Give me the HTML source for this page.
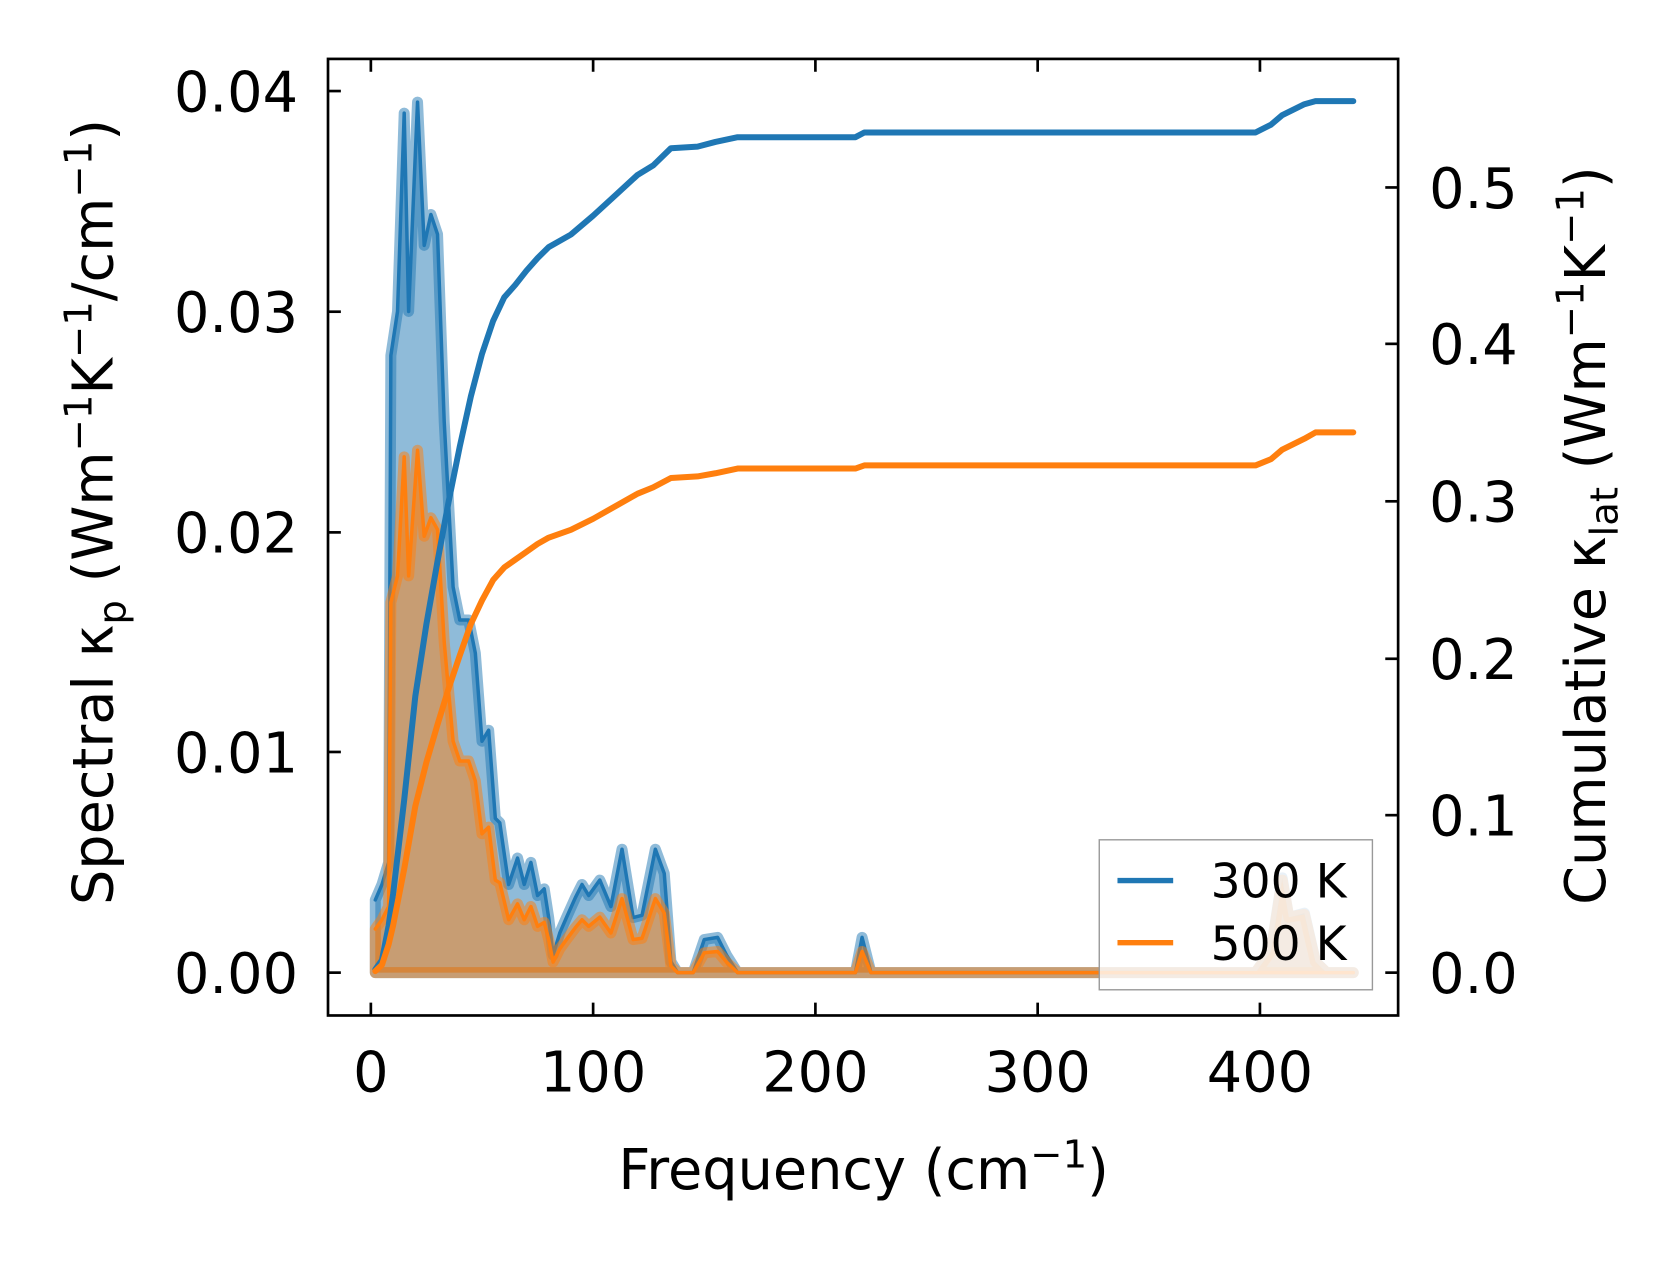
<!DOCTYPE html>
<html><head><meta charset="utf-8"><style>
html,body{margin:0;padding:0;background:#fff;}
svg{display:block;}
text{font-family:"DejaVu Sans","Liberation Sans",sans-serif;fill:#000;}
.ns{vector-effect:non-scaling-stroke;fill:none;stroke-linejoin:round;stroke-linecap:round;}
</style></head><body>
<svg width="1679" height="1264" viewBox="0 0 1567 1180" xmlns="http://www.w3.org/2000/svg">
<defs><clipPath id="c"><rect x="306" y="55" width="999" height="893"/></clipPath></defs>
<g clip-path="url(#c)">
<g transform="translate(346,908) scale(2.075,-20575)">
<polygon stroke="#1f77b4" stroke-opacity="0.5" stroke-width="11" class="ns" style="fill:#1f77b4;fill-opacity:0.5" points="2,0 2,0.0033 5,0.004 8,0.005 9,0.028 12,0.030 15,0.039 17,0.030 21,0.0395 24,0.033 27,0.0344 30,0.0335 33,0.025 37,0.0175 40,0.016 44,0.016 47,0.0145 50,0.0105 53,0.011 56,0.007 58,0.0068 62,0.004 66,0.0052 69,0.004 72,0.005 75,0.0035 78,0.0038 80,0.0025 82,0.0008 85,0.0018 88,0.0025 92,0.0034 95,0.0040 98,0.0035 103,0.0042 108,0.003 113,0.0056 118,0.0025 122,0.0026 128,0.0056 132,0.0045 135,0.0005 138,0 145,0 150,0.0015 156,0.0016 160,0.0008 165,0 218,0 221,0.0016 225,0 398,0 405,0.0010 410,0.0043 413,0.0025 420,0.0027 425,0.0005 430,0 442,0"/>
<polyline class="ns" stroke="#1f77b4" stroke-width="3.5" points="2,0.0033 5,0.004 8,0.005 9,0.028 12,0.030 15,0.039 17,0.030 21,0.0395 24,0.033 27,0.0344 30,0.0335 33,0.025 37,0.0175 40,0.016 44,0.016 47,0.0145 50,0.0105 53,0.011 56,0.007 58,0.0068 62,0.004 66,0.0052 69,0.004 72,0.005 75,0.0035 78,0.0038 80,0.0025 82,0.0008 85,0.0018 88,0.0025 92,0.0034 95,0.0040 98,0.0035 103,0.0042 108,0.003 113,0.0056 118,0.0025 122,0.0026 128,0.0056 132,0.0045 135,0.0005 138,0 145,0 150,0.0015 156,0.0016 160,0.0008 165,0 218,0 221,0.0016 225,0 442,0"/>
</g>
<g transform="translate(346,908) scale(2.075,-12345)">
<polygon stroke="#ff7f0e" stroke-opacity="0.5" stroke-width="11" class="ns" style="fill:#ff7f0e;fill-opacity:0.5" points="2,0 2,0.0033 5,0.004 8,0.005 9,0.028 12,0.030 15,0.039 17,0.030 21,0.0395 24,0.033 27,0.0344 30,0.0335 33,0.025 37,0.0175 40,0.016 44,0.016 47,0.0145 50,0.0105 53,0.011 56,0.007 58,0.0068 62,0.004 66,0.0052 69,0.004 72,0.005 75,0.0035 78,0.0038 80,0.0025 82,0.0008 85,0.0018 88,0.0025 92,0.0034 95,0.0040 98,0.0035 103,0.0042 108,0.003 113,0.0056 118,0.0025 122,0.0026 128,0.0056 132,0.0045 135,0.0005 138,0 145,0 150,0.0015 156,0.0016 160,0.0008 165,0 218,0 221,0.0016 225,0 398,0 405,0.0016 410,0.0070 413,0.0042 420,0.0044 425,0.0008 430,0 442,0"/>
<polyline class="ns" stroke="#ff7f0e" stroke-width="3.5" points="2,0.0033 5,0.004 8,0.005 9,0.028 12,0.030 15,0.039 17,0.030 21,0.0395 24,0.033 27,0.0344 30,0.0335 33,0.025 37,0.0175 40,0.016 44,0.016 47,0.0145 50,0.0105 53,0.011 56,0.007 58,0.0068 62,0.004 66,0.0052 69,0.004 72,0.005 75,0.0035 78,0.0038 80,0.0025 82,0.0008 85,0.0018 88,0.0025 92,0.0034 95,0.0040 98,0.0035 103,0.0042 108,0.003 113,0.0056 118,0.0025 122,0.0026 128,0.0056 132,0.0045 135,0.0005 138,0 145,0 150,0.0015 156,0.0016 160,0.0008 165,0 218,0 221,0.0016 225,0 442,0"/>
</g>
<g transform="translate(346,908) scale(2.075,-1466)">
<polyline class="ns" stroke="#1f77b4" stroke-width="6" points="2,0.002 5,0.008 8,0.03 10,0.05 15,0.11 20,0.176 25,0.222 30,0.262 35,0.300 40,0.335 45,0.367 50,0.394 55,0.415 60,0.43 65,0.438 70,0.447 75,0.455 80,0.462 90,0.47 100,0.482 110,0.495 120,0.508 127,0.514 135,0.525 147,0.526 155,0.529 165,0.532 218,0.532 222,0.535 398,0.535 405,0.54 410,0.546 420,0.553 425,0.555 442,0.555"/>
<polyline class="ns" stroke="#ff7f0e" stroke-width="6" points="2,0.001 5,0.005 8,0.018 10,0.03 15,0.066 20,0.106 25,0.134 30,0.158 35,0.181 40,0.202 45,0.222 50,0.237 55,0.25 60,0.258 65,0.263 70,0.268 75,0.273 80,0.277 90,0.282 100,0.289 110,0.297 120,0.305 127,0.309 135,0.315 147,0.316 155,0.318 165,0.321 218,0.321 222,0.323 398,0.323 405,0.327 410,0.333 420,0.34 425,0.344 442,0.344"/>
</g>
</g>
<rect x="1026" y="784" width="255" height="140" fill="#fff" fill-opacity="0.8" stroke="#999" stroke-width="1.3"/>
<line x1="1043" y1="822" x2="1095" y2="822" stroke="#1f77b4" stroke-width="5"/>
<line x1="1043" y1="880" x2="1095" y2="880" stroke="#ff7f0e" stroke-width="5"/>
<text x="1130" y="838" font-size="44">300 K</text>
<text x="1130" y="896" font-size="44">500 K</text>
<rect x="306" y="55" width="999" height="893" fill="none" stroke="#000" stroke-width="2.5"/>
<g stroke="#000" stroke-width="2.5">
<line x1="346" y1="948" x2="346" y2="936"/><line x1="553.5" y1="948" x2="553.5" y2="936"/><line x1="761" y1="948" x2="761" y2="936"/><line x1="968.5" y1="948" x2="968.5" y2="936"/><line x1="1176" y1="948" x2="1176" y2="936"/>
<line x1="346" y1="55" x2="346" y2="67"/><line x1="553.5" y1="55" x2="553.5" y2="67"/><line x1="761" y1="55" x2="761" y2="67"/><line x1="968.5" y1="55" x2="968.5" y2="67"/><line x1="1176" y1="55" x2="1176" y2="67"/>
<line x1="306" y1="908" x2="318" y2="908"/><line x1="306" y1="702" x2="318" y2="702"/><line x1="306" y1="497" x2="318" y2="497"/><line x1="306" y1="291" x2="318" y2="291"/><line x1="306" y1="85" x2="318" y2="85"/>
<line x1="1305" y1="908" x2="1293" y2="908"/><line x1="1305" y1="761" x2="1293" y2="761"/><line x1="1305" y1="615" x2="1293" y2="615"/><line x1="1305" y1="468" x2="1293" y2="468"/><line x1="1305" y1="321" x2="1293" y2="321"/><line x1="1305" y1="175" x2="1293" y2="175"/>
</g>
<g font-size="52" text-anchor="end">
<text x="278" y="927">0.00</text><text x="278" y="721">0.01</text><text x="278" y="516">0.02</text><text x="278" y="310">0.03</text><text x="278" y="104">0.04</text>
</g>
<g font-size="52" text-anchor="start">
<text x="1334" y="927">0.0</text><text x="1334" y="780">0.1</text><text x="1334" y="634">0.2</text><text x="1334" y="487">0.3</text><text x="1334" y="340">0.4</text><text x="1334" y="194">0.5</text>
</g>
<g font-size="52" text-anchor="middle">
<text x="346" y="1019">0</text><text x="553.5" y="1019">100</text><text x="761" y="1019">200</text><text x="968.5" y="1019">300</text><text x="1176" y="1019">400</text>
</g>
<text x="806" y="1110" font-size="52" text-anchor="middle">Frequency (cm<tspan dy="-20" font-size="36">−1</tspan><tspan dy="20">)</tspan></text>
<text transform="translate(105,478) rotate(-90)" font-size="52" text-anchor="middle">Spectral κ<tspan dy="12" font-size="36">p</tspan><tspan dy="-12"> (Wm</tspan><tspan dy="-20" font-size="36">−1</tspan><tspan dy="20">K</tspan><tspan dy="-20" font-size="36">−1</tspan><tspan dy="20">/cm</tspan><tspan dy="-20" font-size="36">−1</tspan><tspan dy="20">)</tspan></text>
<text transform="translate(1498,500) rotate(-90)" font-size="52" text-anchor="middle">Cumulative κ<tspan dy="12" font-size="36">lat</tspan><tspan dy="-12"> (Wm</tspan><tspan dy="-20" font-size="36">−1</tspan><tspan dy="20">K</tspan><tspan dy="-20" font-size="36">−1</tspan><tspan dy="20">)</tspan></text>
</svg>
</body></html>
